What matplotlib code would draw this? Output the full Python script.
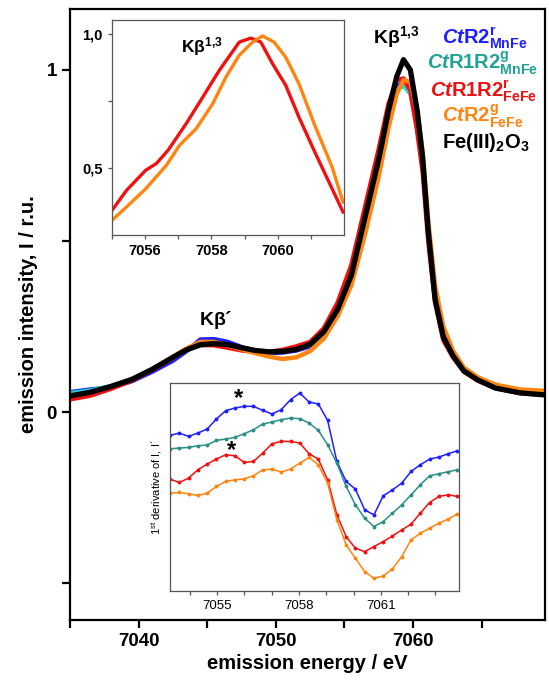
import numpy as np
import matplotlib
matplotlib.use("Agg")
import matplotlib.pyplot as plt
from matplotlib.ticker import FixedLocator, MultipleLocator

plt.rcParams['font.family'] = ['Liberation Sans', 'DejaVu Sans']
plt.rcParams['mathtext.fontset'] = 'custom'
plt.rcParams['mathtext.rm'] = 'Liberation Sans:bold'
plt.rcParams['mathtext.it'] = 'Liberation Sans:bold:italic'
plt.rcParams['mathtext.bf'] = 'Liberation Sans:bold'

# main spectra (emission energy / eV)
energy = [7035, 7036.5, 7038, 7039.5, 7041, 7042.5, 7043.5, 7044.5, 7045.5, 7046.5,
          7047.5, 7048.5, 7049.5, 7050.5, 7051.5, 7052.5, 7053.5, 7054.5, 7055.5, 7056.5,
          7057.5, 7058.2, 7058.8, 7059.3, 7059.8, 7060.3, 7060.7, 7061.1, 7061.6, 7062.2,
          7062.9, 7063.7, 7064.7, 7066, 7067.8, 7069.6]
blue = [0.058, 0.066, 0.072, 0.09, 0.118, 0.150, 0.178, 0.212, 0.213, 0.205, 0.190, 0.178,
        0.172, 0.174, 0.180, 0.192, 0.225, 0.29, 0.39, 0.56, 0.73, 0.87, 0.95, 0.965, 0.94,
        0.84, 0.72, 0.52, 0.34, 0.23, 0.17, 0.125, 0.098, 0.074, 0.062, 0.055]
cyan = [0.055, 0.063, 0.076, 0.097, 0.125, 0.158, 0.180, 0.195, 0.198, 0.195, 0.186, 0.178,
        0.174, 0.178, 0.186, 0.196, 0.228, 0.29, 0.39, 0.56, 0.73, 0.86, 0.94, 0.955, 0.93,
        0.83, 0.72, 0.52, 0.34, 0.23, 0.17, 0.125, 0.098, 0.074, 0.062, 0.058]
red = [0.037, 0.048, 0.068, 0.092, 0.123, 0.158, 0.182, 0.196, 0.195, 0.188, 0.180, 0.176,
       0.176, 0.182, 0.192, 0.205, 0.245, 0.32, 0.43, 0.60, 0.77, 0.90, 0.97, 0.975, 0.94,
       0.82, 0.70, 0.50, 0.32, 0.21, 0.16, 0.118, 0.092, 0.07, 0.055, 0.05]
orange = [0.048, 0.058, 0.075, 0.096, 0.126, 0.162, 0.186, 0.205, 0.205, 0.195, 0.183, 0.172,
          0.162, 0.155, 0.160, 0.178, 0.215, 0.28, 0.37, 0.52, 0.69, 0.83, 0.93, 0.97, 0.965,
          0.88, 0.76, 0.56, 0.37, 0.25, 0.18, 0.13, 0.102, 0.08, 0.066, 0.062]
black = [0.047, 0.058, 0.075, 0.095, 0.125, 0.160, 0.182, 0.197, 0.200, 0.197, 0.188, 0.180,
         0.176, 0.177, 0.183, 0.198, 0.235, 0.30, 0.40, 0.57, 0.74, 0.88, 0.98, 1.03, 1.00,
         0.88, 0.74, 0.53, 0.33, 0.22, 0.165, 0.12, 0.094, 0.07, 0.056, 0.05]

# zoom on K-beta 1,3 (top inset)
zoom_red_x = [7055.0, 7055.44, 7056.02, 7056.34, 7056.69, 7057.24, 7057.74, 7058.24, 7058.84,
              7059.19, 7059.49, 7059.84, 7060.24, 7060.64, 7061.14, 7061.64, 7061.97]
zoom_red_y = [0.343, 0.418, 0.493, 0.518, 0.567, 0.667, 0.766, 0.866, 0.971, 0.986, 0.971,
              0.891, 0.81, 0.691, 0.555, 0.424, 0.337]
zoom_orange_x = [7055.0, 7055.44, 7056.02, 7056.64, 7057.04, 7057.54, 7058.04, 7058.44, 7058.84,
                 7059.24, 7059.54, 7059.89, 7060.24, 7060.64, 7061.14, 7061.64, 7061.97]
zoom_orange_y = [0.306, 0.356, 0.424, 0.511, 0.586, 0.648, 0.741, 0.841, 0.922, 0.971, 0.994,
                 0.971, 0.915, 0.816, 0.654, 0.505, 0.374]

# first derivative (bottom inset), arbitrary units
deriv_x = [7053.27, 7053.61, 7053.95, 7054.29, 7054.63, 7054.97, 7055.31, 7055.65, 7055.99,
           7056.33, 7056.67, 7057.01, 7057.35, 7057.69, 7058.03, 7058.37, 7058.71, 7059.05,
           7059.39, 7059.73, 7060.07, 7060.41, 7060.75, 7061.09, 7061.43, 7061.77, 7062.11,
           7062.45, 7062.79, 7063.13, 7063.47, 7063.81]
deriv_blue = [4.66, 4.73, 4.63, 4.73, 4.85, 5.15, 5.40, 5.48, 5.53, 5.53, 5.41, 5.30, 5.43, 5.73,
              5.93, 5.66, 5.60, 5.11, 3.88, 3.28, 3.05, 2.43, 2.28, 2.85, 3.03, 3.23, 3.58, 3.78,
              3.95, 4.01, 4.11, 4.20]
deriv_teal = [4.26, 4.28, 4.30, 4.35, 4.37, 4.51, 4.55, 4.60, 4.71, 4.83, 5.00, 5.06, 5.13, 5.18,
              5.16, 5.03, 4.81, 4.38, 3.83, 3.13, 2.58, 2.18, 1.93, 2.08, 2.33, 2.58, 2.88, 3.18,
              3.45, 3.51, 3.57, 3.63]
deriv_red = [3.35, 3.25, 3.38, 3.63, 3.80, 3.95, 4.08, 4.05, 3.85, 3.88, 4.13, 4.41, 4.48, 4.48,
             4.43, 4.11, 3.95, 3.33, 2.28, 1.63, 1.28, 1.18, 1.33, 1.48, 1.65, 1.83, 2.00, 2.33,
             2.65, 2.83, 2.88, 2.83]
deriv_orange = [2.93, 2.95, 2.91, 2.86, 2.93, 3.13, 3.28, 3.33, 3.36, 3.45, 3.63, 3.65, 3.56, 3.65,
                3.83, 4.00, 3.78, 3.23, 2.13, 1.38, 0.98, 0.58, 0.38, 0.45, 0.66, 1.03, 1.53, 1.73,
                1.88, 2.03, 2.15, 2.31]

c_blue = '#1f1fff'
c_cyan = '#22d4d4'
c_teal = '#2a8f86'
c_red = '#f01010'
c_orange = '#ff8410'

fig = plt.figure(figsize=(5.49, 6.8), dpi=100)
ax = fig.add_axes([0.1275, 0.0882, 0.865, 0.8985])

lw = 3.2
ax.plot(energy, blue, color=c_blue, lw=lw)
ax.plot(energy, cyan, color=c_cyan, lw=lw)
ax.plot(energy, red, color=c_red, lw=lw)
ax.plot(energy, orange, color=c_orange, lw=lw)
ax.plot(energy, black, color='black', lw=3.8)

ax.set_xlim(7035, 7069.6)
ax.set_ylim(-0.608, 1.178)
ax.xaxis.set_major_locator(FixedLocator([7040, 7050, 7060]))
ax.xaxis.set_minor_locator(FixedLocator([7035, 7045, 7055, 7065]))
ax.yaxis.set_major_locator(FixedLocator([0, 1]))
ax.yaxis.set_minor_locator(FixedLocator([-0.5, 0.5]))
ax.set_yticklabels(['0', '1'])
for s in ax.spines.values():
    s.set_linewidth(1.6)
ax.tick_params(which='both', direction='out', width=1.6, length=6, labelsize=13.5)
for t in ax.get_xticklabels() + ax.get_yticklabels():
    t.set_fontweight('bold')
ax.set_xlabel('emission energy / eV', fontsize=14.5, fontweight='bold', labelpad=3)
ax.set_ylabel('emission intensity, I / r.u.', fontsize=14.5, fontweight='bold', labelpad=6)

ax.text(7045.6, 0.27, r"K$\mathrm{\beta}$´", fontsize=14, fontweight='bold', ha='center', va='center')
ax.text(7058.8, 1.095, r"K$\mathrm{\beta}^{1{,}3}$", fontsize=14, fontweight='bold', ha='center', va='center')

# legend as coloured text
labels = [(r'$\mathit{Ct}\mathrm{R2}^{\mathrm{r}}_{\mathrm{MnFe}}$', c_blue, 442, 38),
          (r'$\mathit{Ct}\mathrm{R1R2}^{\mathrm{g}}_{\mathrm{MnFe}}$', '#1fa396', 427, 63),
          (r'$\mathit{Ct}\mathrm{R1R2}^{\mathrm{r}}_{\mathrm{FeFe}}$', c_red, 430, 91),
          (r'$\mathit{Ct}\mathrm{R2}^{\mathrm{g}}_{\mathrm{FeFe}}$', c_orange, 442, 116),
          (r'$\mathrm{Fe(III)}_{2}\mathrm{O}_{3}$', 'black', 442, 143)]
for txt, col, px, py in labels:
    fig.text(px / 549, 1 - py / 680, txt, color=col, fontsize=14.5, ha='left', va='center')

# top inset
ax1 = fig.add_axes([0.204, 0.654, 0.4226, 0.316])
ax1.plot(zoom_red_x, zoom_red_y, color=c_red, lw=2.4)
ax1.plot(zoom_orange_x, zoom_orange_y, color=c_orange, lw=2.4)
ax1.set_xlim(7055, 7062)
ax1.set_ylim(0.25, 1.052)
ax1.xaxis.set_major_locator(FixedLocator([7056, 7058, 7060]))
ax1.xaxis.set_minor_locator(FixedLocator([7055, 7057, 7059, 7061]))
ax1.yaxis.set_major_locator(FixedLocator([0.5, 1.0]))
ax1.yaxis.set_minor_locator(FixedLocator([0.75]))
ax1.set_yticklabels(['0,5', '1,0'])
for s in ax1.spines.values():
    s.set_linewidth(0.9)
    s.set_color('#555555')
ax1.tick_params(which='both', direction='out', width=0.9, length=3, labelsize=10.5, colors='#555555', labelcolor='black')
for t in ax1.get_xticklabels() + ax1.get_yticklabels():
    t.set_fontweight('bold')
ax1.text(7057.7, 0.955, r"K$\mathrm{\beta}^{1{,}3}$", fontsize=12.5, fontweight='bold', ha='center', va='center')

# bottom inset
ax2 = fig.add_axes([0.3097, 0.1309, 0.5264, 0.3059])
for y, col in [(deriv_blue, c_blue), (deriv_teal, c_teal), (deriv_red, c_red), (deriv_orange, c_orange)]:
    ax2.plot(deriv_x, y, color=col, lw=1.1, marker='o', ms=1.8)
ax2.set_xlim(7053.27, 7063.87)
ax2.set_ylim(0, 6.23)
ax2.xaxis.set_major_locator(FixedLocator([7055, 7058, 7061]))
ax2.xaxis.set_minor_locator(MultipleLocator(1))
ax2.set_yticks([])
for s in ax2.spines.values():
    s.set_linewidth(0.9)
    s.set_color('#555555')
ax2.tick_params(which='both', direction='out', width=0.9, length=3, labelsize=9.5, colors='#555555', labelcolor='black')
ax2.set_ylabel(r'1$^{\mathregular{st}}$ derivative of I, I´', fontsize=8, fontweight='normal', labelpad=4)
ax2.text(7055.77, 5.75, '*', fontsize=17, fontweight='bold', ha='center', va='center')
ax2.text(7055.53, 4.22, '*', fontsize=17, fontweight='bold', ha='center', va='center')

fig.savefig('out.png', dpi=100)
